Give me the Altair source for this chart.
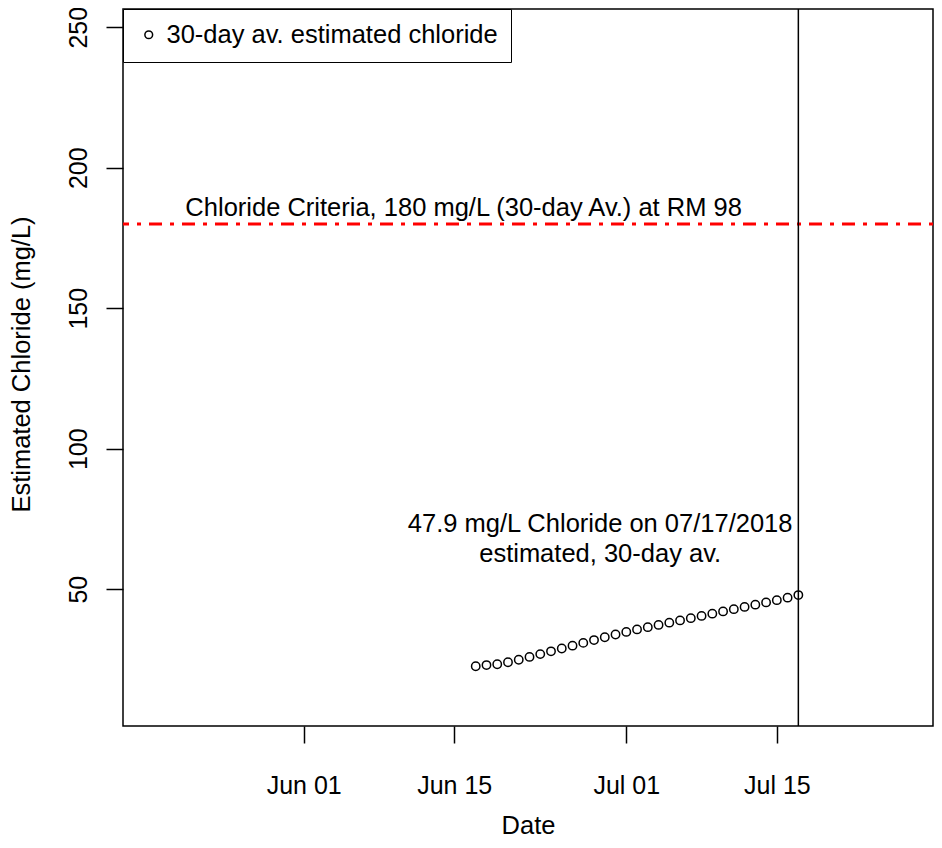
import altair as alt
import pandas as pd

FONT = "Liberation Sans"

# ---- data ----
day_labels = ["06-17", "06-18", "06-19", "06-20", "06-21", "06-22", "06-23", "06-24",
              "06-25", "06-26", "06-27", "06-28", "06-29", "06-30", "07-01", "07-02",
              "07-03", "07-04", "07-05", "07-06", "07-07", "07-08", "07-09", "07-10",
              "07-11", "07-12", "07-13", "07-14", "07-15", "07-16", "07-17"]
chloride = [22.6, 23.0, 23.3, 24.0, 24.9, 25.9, 26.9, 27.9, 28.9, 29.9, 30.9,
            31.9, 32.9, 33.9, 34.8, 35.7, 36.5, 37.3, 38.1, 38.9, 39.7, 40.5,
            41.3, 42.1, 42.9, 43.7, 44.5, 45.3, 46.1, 47.0, 47.9]
series_name = "30-day av. estimated chloride"

criteria_value = [180]
criteria_label = ["Chloride Criteria, 180 mg/L (30-day Av.) at RM 98"]
criteria_label_pos = ["2018-06-15T21:00:00Z"]
criteria_label_y = [182.8]

latest_date = ["2018-07-17T00:00:00Z"]
latest_label = ["47.9 mg/L Chloride on 07/17/2018\nestimated, 30-day av."]
latest_label_pos = ["2018-06-28T13:40:00Z"]
latest_label_y = [70.5]

x_tick_dates = [(6, 1), (6, 15), (7, 1), (7, 15)]
y_ticks = [50, 100, 150, 200, 250]

# ---- tables ----
df = pd.DataFrame({
    "date": ["2018-" + d + "T00:00:00Z" for d in day_labels],
    "chloride": chloride,
    "series": series_name,
})
crit_df = pd.DataFrame({"chloride": criteria_value})
crit_txt = pd.DataFrame({"date": criteria_label_pos, "chloride": criteria_label_y,
                         "label": criteria_label})
vline_df = pd.DataFrame({"date": latest_date})
latest_txt = pd.DataFrame({"date": latest_label_pos, "chloride": latest_label_y,
                           "label": latest_label})

x_scale = alt.Scale(
    type="utc",
    domain=[alt.DateTime(year=2018, month=5, date=15, hours=4, minutes=48, utc=True),
            alt.DateTime(year=2018, month=7, date=29, hours=12, minutes=30, utc=True)],
)
y_scale = alt.Scale(domain=[1.32, 256.48], nice=False, zero=False)

x_axis = alt.Axis(
    values=[alt.DateTime(year=2018, month=m, date=d, utc=True) for m, d in x_tick_dates],
    format="%b %d", title="Date", grid=False, domain=False,
    tickSize=17, tickWidth=1.5, tickColor="black",
    labelFont=FONT, labelFontSize=25, labelColor="black",
    labelPadding=50, labelBaseline="alphabetic", labelAlign="center",
    labelFlush=False, labelOverlap=False,
    titleFont=FONT, titleFontSize=25.5, titleColor="black", titleFontWeight="normal",
    titleBaseline="alphabetic", titleAlign="center", titleX=405, titleY=107,
)
y_axis = alt.Axis(
    values=y_ticks, title="Estimated Chloride (mg/L)", grid=False, domain=False,
    tickSize=17, tickWidth=1.5, tickColor="black",
    labelFont=FONT, labelFontSize=25, labelColor="black",
    labelAngle=270, labelAlign="center", labelBaseline="alphabetic", labelPadding=19.5,
    labelFlush=False, labelOverlap=False,
    titleFont=FONT, titleFontSize=25.5, titleColor="black", titleFontWeight="normal",
    titleAngle=270, titleAlign="center", titleBaseline="alphabetic",
    titleX=-94, titleY=355,
)


def X():
    return alt.X("date:T", scale=x_scale, axis=x_axis)


def Y():
    return alt.Y("chloride:Q", scale=y_scale, axis=y_axis)


points = alt.Chart(df).mark_point(
    shape="circle", filled=False, size=70, strokeWidth=1.5, opacity=1
).encode(
    x=X(), y=Y(),
    color=alt.Color(
        "series:N", scale=alt.Scale(range=["black"]),
        legend=alt.Legend(
            title=None, orient="none", legendX=0, legendY=0,
            strokeColor="black", fillColor="white", padding=13,
            labelFont=FONT, labelFontSize=25.5, labelColor="black", labelOffset=5,
            labelLimit=0,
            symbolType="circle", symbolSize=60, symbolStrokeWidth=1.5,
        ),
    ),
)

crit_rule = alt.Chart(crit_df).mark_rule(
    color="#FF0000", strokeWidth=3, strokeDash=[4, 8, 13, 8]
).encode(y=Y())

crit_text = alt.Chart(crit_txt).mark_text(
    font=FONT, fontSize=25.5, color="black", align="center", baseline="alphabetic"
).encode(x=X(), y=Y(), text="label:N")

vline = alt.Chart(vline_df).mark_rule(color="black", strokeWidth=1.5).encode(x=X())

latest_text = alt.Chart(latest_txt).mark_text(
    font=FONT, fontSize=25.5, color="black", align="center", baseline="alphabetic",
    lineBreak="\n", lineHeight=30
).encode(x=X(), y=Y(), text="label:N")

chart = alt.layer(crit_rule, vline, points, crit_text, latest_text).properties(
    width=810, height=717,
    padding={"left": 115, "top": 1, "right": 1, "bottom": 113},
    autosize=alt.AutoSizeParams(type="none"),
).configure(font=FONT).configure_view(stroke="black", strokeWidth=1.5)

chart.save("out.html", embed_options={"renderer": "svg", "actions": False})
